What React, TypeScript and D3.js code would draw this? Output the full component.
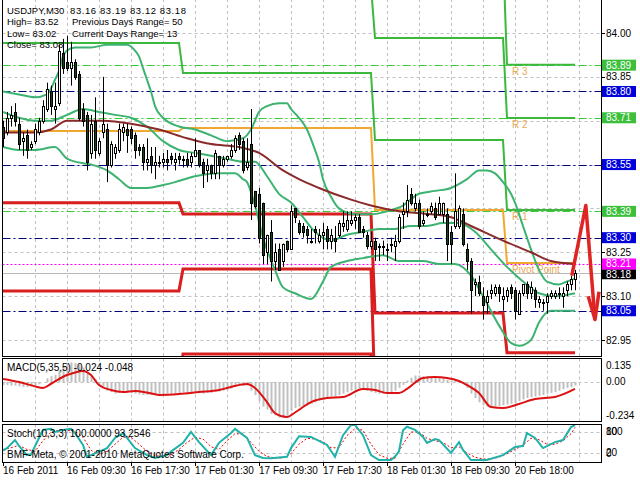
import React from 'react';
import * as d3 from 'd3';

type OHLC = [number, number, number, number];
type Pt = [number, number];

// USDJPY M30 bars: open, high, low, close
const candles: OHLC[] = [
  [83.68, 83.70, 83.61, 83.64], [83.66, 83.73, 83.65, 83.71], [83.71, 83.75, 83.68, 83.72], [83.73, 83.76, 83.68, 83.70],
  [83.69, 83.71, 83.60, 83.62], [83.63, 83.66, 83.58, 83.64], [83.65, 83.67, 83.57, 83.60], [83.61, 83.63, 83.60, 83.62],
  [83.63, 83.69, 83.62, 83.67], [83.66, 83.71, 83.65, 83.70], [83.70, 83.77, 83.69, 83.75], [83.74, 83.83, 83.73, 83.81],
  [83.80, 83.82, 83.72, 83.75], [83.74, 83.83, 83.69, 83.75], [83.76, 83.96, 83.75, 83.94], [83.93, 83.98, 83.86, 83.88],
  [83.90, 83.99, 83.87, 83.88], [83.88, 83.97, 83.82, 83.90], [83.90, 83.91, 83.84, 83.85], [83.86, 83.87, 83.70, 83.71],
  [83.74, 83.76, 83.68, 83.70], [83.72, 83.73, 83.53, 83.56], [83.59, 83.72, 83.57, 83.69], [83.70, 83.78, 83.57, 83.60],
  [83.59, 83.64, 83.58, 83.63], [83.66, 83.85, 83.64, 83.69], [83.67, 83.69, 83.49, 83.55], [83.55, 83.63, 83.54, 83.62],
  [83.59, 83.62, 83.57, 83.61], [83.60, 83.69, 83.59, 83.67], [83.66, 83.69, 83.63, 83.68], [83.67, 83.69, 83.59, 83.65],
  [83.67, 83.68, 83.62, 83.64], [83.65, 83.66, 83.57, 83.60], [83.61, 83.62, 83.58, 83.60], [83.61, 83.62, 83.53, 83.56],
  [83.56, 83.64, 83.53, 83.57], [83.58, 83.61, 83.52, 83.55], [83.55, 83.61, 83.50, 83.56], [83.56, 83.58, 83.54, 83.56],
  [83.56, 83.59, 83.54, 83.57], [83.57, 83.60, 83.53, 83.56], [83.58, 83.59, 83.55, 83.57], [83.56, 83.59, 83.53, 83.57],
  [83.58, 83.59, 83.55, 83.57], [83.57, 83.58, 83.54, 83.57], [83.57, 83.59, 83.54, 83.55], [83.56, 83.59, 83.54, 83.58],
  [83.58, 83.64, 83.58, 83.60], [83.60, 83.60, 83.54, 83.55], [83.56, 83.57, 83.47, 83.52], [83.53, 83.57, 83.49, 83.55],
  [83.55, 83.55, 83.50, 83.52], [83.52, 83.60, 83.50, 83.59], [83.58, 83.58, 83.50, 83.55], [83.55, 83.58, 83.54, 83.57],
  [83.57, 83.58, 83.56, 83.58], [83.58, 83.62, 83.57, 83.60], [83.60, 83.65, 83.59, 83.64], [83.65, 83.66, 83.60, 83.62],
  [83.63, 83.64, 83.52, 83.53], [83.54, 83.64, 83.53, 83.56], [83.62, 83.74, 83.36, 83.42], [83.46, 83.46, 83.40, 83.41],
  [83.45, 83.47, 83.28, 83.30], [83.42, 83.42, 83.21, 83.24], [83.25, 83.31, 83.21, 83.31], [83.32, 83.36, 83.15, 83.22],
  [83.22, 83.28, 83.19, 83.25], [83.26, 83.28, 83.19, 83.19], [83.22, 83.28, 83.20, 83.28], [83.29, 83.29, 83.25, 83.26],
  [83.26, 83.41, 83.26, 83.39], [83.40, 83.40, 83.35, 83.37], [83.35, 83.36, 83.31, 83.32], [83.34, 83.35, 83.30, 83.32],
  [83.33, 83.34, 83.28, 83.31], [83.29, 83.33, 83.28, 83.29], [83.33, 83.34, 83.28, 83.32], [83.29, 83.33, 83.28, 83.31],
  [83.31, 83.35, 83.26, 83.32], [83.33, 83.34, 83.26, 83.29], [83.29, 83.33, 83.26, 83.31], [83.30, 83.34, 83.25, 83.29],
  [83.31, 83.36, 83.30, 83.35], [83.34, 83.39, 83.32, 83.35], [83.33, 83.39, 83.32, 83.36], [83.35, 83.39, 83.34, 83.36],
  [83.36, 83.38, 83.33, 83.37], [83.37, 83.38, 83.32, 83.32], [83.33, 83.34, 83.30, 83.32], [83.31, 83.32, 83.26, 83.27],
  [83.27, 83.32, 83.26, 83.29], [83.29, 83.30, 83.22, 83.26], [83.27, 83.28, 83.22, 83.27], [83.27, 83.29, 83.24, 83.27],
  [83.26, 83.28, 83.22, 83.26], [83.28, 83.30, 83.25, 83.28], [83.27, 83.31, 83.22, 83.29], [83.29, 83.38, 83.28, 83.37],
  [83.38, 83.42, 83.33, 83.39], [83.39, 83.48, 83.37, 83.43], [83.45, 83.47, 83.41, 83.42], [83.40, 83.45, 83.39, 83.42],
  [83.42, 83.43, 83.33, 83.34], [83.35, 83.39, 83.34, 83.36], [83.38, 83.40, 83.37, 83.38], [83.39, 83.42, 83.38, 83.41],
  [83.40, 83.42, 83.36, 83.37], [83.38, 83.44, 83.38, 83.42], [83.38, 83.42, 83.35, 83.42], [83.38, 83.40, 83.22, 83.28],
  [83.32, 83.34, 83.21, 83.28], [83.34, 83.52, 83.33, 83.39], [83.34, 83.41, 83.33, 83.40], [83.38, 83.40, 83.27, 83.28],
  [83.26, 83.28, 83.19, 83.22], [83.22, 83.23, 83.04, 83.12], [83.14, 83.16, 83.10, 83.15], [83.15, 83.17, 83.10, 83.11],
  [83.10, 83.13, 83.02, 83.07], [83.08, 83.12, 83.04, 83.10], [83.11, 83.14, 83.09, 83.12], [83.11, 83.14, 83.10, 83.13],
  [83.13, 83.14, 83.08, 83.11], [83.09, 83.13, 83.05, 83.10], [83.10, 83.13, 83.08, 83.12], [83.13, 83.14, 83.09, 83.11],
  [83.12, 83.13, 83.02, 83.05], [83.04, 83.12, 83.04, 83.11], [83.11, 83.14, 83.10, 83.14], [83.14, 83.15, 83.09, 83.11],
  [83.11, 83.15, 83.09, 83.13], [83.12, 83.13, 83.06, 83.09], [83.08, 83.10, 83.06, 83.09], [83.08, 83.09, 83.05, 83.08],
  [83.08, 83.11, 83.04, 83.10], [83.10, 83.12, 83.09, 83.11], [83.10, 83.12, 83.09, 83.11], [83.11, 83.13, 83.09, 83.11],
  [83.10, 83.13, 83.06, 83.11], [83.12, 83.15, 83.10, 83.14], [83.14, 83.17, 83.12, 83.16], [83.16, 83.19, 83.12, 83.18],
];

const timeLabels = ['16 Feb 2011', '16 Feb 09:30', '16 Feb 17:30', '17 Feb 01:30', '17 Feb 09:30',
  '17 Feb 17:30', '18 Feb 01:30', '18 Feb 09:30', '20 Feb 18:00'];
const timeLabelBars = [0, 16, 32, 48, 64, 80, 96, 112, 128];

const priceGrid = [84.0, 83.85, 83.7, 83.55, 83.4, 83.25, 83.1, 82.95];
const priceLabels = [84.0, 83.85, 83.25, 83.1, 82.95];

const levelPrices = [83.89, 83.80, 83.71, 83.55, 83.39, 83.30, 83.21, 83.05];
const levelKinds = ['green', 'blue', 'green', 'blue', 'green', 'blue', 'magenta', 'blue'];
const bidPrice = 83.18;

const headerLines = [
  ['USDJPY,M30', '83.16 83.19 83.12 83.18'],
  ['High= 83.52', 'Previous Days Range= 50'],
  ['Low= 83.02', 'Current Days Range= 13'],
  ['Close= 83.08', ''],
];

// Bollinger bands and moving average, read at sample bars: [bar, price]
const bbUpper: Pt[] = [[0, 83.80], [4, 83.79], [8, 83.78], [11, 83.79], [12, 83.81], [13, 83.84], [14, 83.87], [15, 83.92],
  [16, 83.94], [18, 83.95], [22, 83.95], [26, 83.96], [31, 83.96], [33, 83.94], [34, 83.92], [35, 83.88], [36, 83.84],
  [37, 83.80], [38, 83.75], [40, 83.71], [44, 83.68], [48, 83.67], [52, 83.65], [56, 83.63], [60, 83.64], [62, 83.67],
  [64, 83.73], [66, 83.75], [69, 83.76], [71, 83.76], [72, 83.74], [74, 83.71], [76, 83.67], [78, 83.60], [79, 83.56],
  [80, 83.50], [82, 83.44], [84, 83.40], [88, 83.38], [92, 83.38], [96, 83.39], [100, 83.41], [104, 83.45], [108, 83.46],
  [112, 83.47], [116, 83.50], [119, 83.53], [121, 83.53], [123, 83.52], [125, 83.49], [127, 83.45], [128, 83.42],
  [130, 83.34], [132, 83.26], [134, 83.19], [136, 83.15], [139, 83.14], [141, 83.15], [143, 83.16]];
const bbMiddle: Pt[] = [[0, 83.73], [4, 83.71], [8, 83.70], [12, 83.70], [16, 83.72], [20, 83.74], [24, 83.73], [28, 83.72],
  [32, 83.71], [36, 83.68], [40, 83.63], [44, 83.60], [48, 83.59], [52, 83.58], [56, 83.57], [60, 83.56], [63, 83.56],
  [66, 83.51], [69, 83.45], [72, 83.42], [75, 83.37], [78, 83.32], [82, 83.29], [86, 83.31], [90, 83.32], [94, 83.33],
  [98, 83.33], [102, 83.34], [106, 83.34], [110, 83.35], [114, 83.35], [118, 83.32], [122, 83.26], [126, 83.20],
  [130, 83.15], [134, 83.11], [138, 83.10], [143, 83.11]];
const bbLower: Pt[] = [[0, 83.61], [4, 83.60], [8, 83.60], [13, 83.61], [16, 83.57], [18, 83.56], [22, 83.55], [26, 83.53],
  [29, 83.50], [32, 83.47], [36, 83.47], [40, 83.48], [43, 83.49], [48, 83.51], [54, 83.52], [58, 83.52], [60, 83.50],
  [61, 83.49], [63, 83.41], [65, 83.30], [68, 83.19], [70, 83.13], [73, 83.11], [77, 83.09], [80, 83.15], [82, 83.20],
  [86, 83.22], [90, 83.23], [95, 83.24], [99, 83.22], [105, 83.22], [109, 83.21], [113, 83.21], [117, 83.17], [120, 83.10],
  [124, 83.00], [127, 82.94], [129, 82.93], [132, 82.95], [134, 83.01], [137, 83.05], [143, 83.05]];
const maLine: Pt[] = [[0, 83.66], [8, 83.66], [12, 83.67], [16, 83.70], [20, 83.70], [25, 83.70], [32, 83.69], [39, 83.67],
  [46, 83.64], [52, 83.62], [59, 83.61], [64, 83.59], [70, 83.53], [74, 83.50], [79, 83.47], [87, 83.43], [92, 83.41],
  [99, 83.39], [107, 83.38], [112, 83.37], [117, 83.34], [125, 83.29], [132, 83.25], [137, 83.22], [143, 83.21]];

// daily pivot levels
const dayStarts = [0, 45, 93, 126];
const dayEnds = [44, 92, 125, 143];
const pivotLevel = [83.665, 83.675, 83.395, 83.213];
const r1Level = [83.966, 83.863, 83.634, 83.395];
const r2Level = [84.27, 84.16, 83.983, 83.709];
const r3Level = [84.6, 84.45, 84.28, 83.891];
const s1Level = [83.419, 83.381, 83.042, 82.906];
const s2Level = [83.118, 83.193, 82.75, 82.55];
const s3Level = [82.8, 82.902, 82.45, 82.2];
const pivotTags = ['R 3', 'R 2', 'R 1', 'Pivot Point'];

// MACD(5,35,5)
const macdHist = [
  -0.02, -0.02, -0.025, -0.025, -0.03, -0.035, -0.035, -0.03, -0.025, -0.015, 0.0, 0.025, 0.04, 0.05, 0.08, 0.11,
  0.13, 0.135, 0.13, 0.12, 0.10, 0.06, 0.04, 0.02, -0.01, -0.03, -0.06, -0.07, -0.08, -0.075, -0.07, -0.07,
  -0.075, -0.08, -0.085, -0.09, -0.09, -0.09, -0.085, -0.085, -0.085, -0.08, -0.08, -0.08, -0.075, -0.07, -0.075, -0.07,
  -0.065, -0.07, -0.08, -0.075, -0.075, -0.065, -0.065, -0.06, -0.055, -0.045, -0.03, -0.02, -0.025, -0.025, -0.06, -0.09,
  -0.13, -0.17, -0.19, -0.22, -0.23, -0.245, -0.24, -0.23, -0.2, -0.18, -0.17, -0.165, -0.16, -0.15, -0.14, -0.13,
  -0.12, -0.11, -0.1, -0.1, -0.09, -0.08, -0.07, -0.06, -0.05, -0.045, -0.05, -0.06, -0.07, -0.075, -0.08, -0.08,
  -0.075, -0.07, -0.06, -0.04, -0.02, 0.01, 0.03, 0.045, 0.045, 0.04, 0.04, 0.035, 0.03, 0.03, 0.03, 0.015,
  0.01, 0.015, 0.01, -0.01, -0.04, -0.08, -0.11, -0.14, -0.16, -0.17, -0.175, -0.17, -0.165, -0.16, -0.155, -0.15,
  -0.145, -0.13, -0.12, -0.11, -0.105, -0.1, -0.095, -0.09, -0.08, -0.075, -0.07, -0.06, -0.05, -0.04, -0.035, -0.024,
];
const macdSignal: Pt[] = [[0, 0.021], [4, 0.0], [8, -0.03], [10, -0.041], [12, -0.012], [16, 0.048], [18, 0.066],
  [20, 0.076], [22, 0.048], [24, -0.021], [27, -0.055], [30, -0.069], [33, -0.062], [36, -0.072], [39, -0.089],
  [44, -0.083], [49, -0.069], [54, -0.055], [57, -0.034], [61, -0.014], [63, -0.041], [66, -0.138], [68, -0.215],
  [71, -0.241], [73, -0.21], [77, -0.138], [81, -0.11], [85, -0.103], [90, -0.048], [93, -0.055], [96, -0.076],
  [99, -0.076], [101, -0.048], [105, 0.028], [108, 0.034], [111, 0.028], [114, 0.007], [116, -0.021], [119, -0.076],
  [122, -0.172], [125, -0.179], [129, -0.151], [133, -0.117], [138, -0.103], [143, -0.048]];
const macdTicks = [0.135, 0.0, -0.234];

// Stochastic(10,3,3)
const stochMain: Pt[] = [[0, 27], [1, 34], [3, 57], [4, 40], [6, 14], [7, 16], [9, 63], [10, 86], [12, 89], [13, 80],
  [15, 86], [17, 89], [18, 77], [20, 43], [21, 9], [22, 14], [24, 24], [26, 34], [28, 63], [30, 77], [31, 63], [33, 34],
  [36, 14], [38, 6], [41, 14], [42, 24], [45, 49], [47, 80], [49, 51], [52, 14], [54, 49], [57, 77], [58, 89], [61, 63],
  [63, 14], [65, 6], [67, 5], [71, 9], [72, 34], [74, 68], [77, 66], [80, 49], [81, 43], [83, 9], [85, 71], [87, 100],
  [88, 100], [90, 71], [92, 14], [94, 0], [97, 0], [98, 10], [99, 25], [100, 85], [101, 95], [103, 86], [105, 66],
  [106, 49], [108, 60], [109, 57], [112, 20], [114, 51], [115, 29], [117, 0], [121, 0], [125, 14], [128, 37], [130, 40],
  [131, 77], [133, 63], [135, 34], [138, 51], [140, 57], [142, 94], [143, 100]];
const stochSignal: Pt[] = [[0, 30], [2, 35], [4, 42], [6, 30], [8, 25], [10, 55], [12, 80], [14, 85], [16, 85], [18, 82],
  [20, 65], [22, 28], [24, 15], [26, 25], [28, 45], [30, 65], [32, 65], [34, 45], [36, 25], [38, 12], [40, 10], [42, 15],
  [44, 30], [46, 50], [48, 65], [50, 60], [52, 38], [54, 30], [56, 55], [58, 75], [60, 75], [62, 50], [64, 25], [66, 10],
  [68, 6], [70, 6], [72, 18], [74, 45], [76, 62], [78, 60], [80, 52], [82, 35], [84, 35], [86, 70], [88, 90], [90, 85],
  [92, 45], [94, 15], [96, 5], [98, 5], [100, 45], [102, 80], [104, 80], [106, 62], [108, 55], [110, 50], [112, 35],
  [114, 38], [116, 20], [118, 8], [120, 3], [122, 3], [124, 8], [126, 18], [128, 30], [130, 42], [132, 62], [134, 58],
  [136, 45], [138, 45], [140, 55], [142, 75], [143, 93.25]];
const stochLevels = [80, 20];
const stochTicks = [100, 80, 20, 0];

// hand drawn forecast arrow: [bar, price]
const arrowLine: Pt[] = [[142.2, 83.17], [145.7, 83.41], [148, 83.02]];
const arrowHead: Pt[] = [[146.3, 83.10], [148, 83.02], [149, 83.115]];

const FONT = 'Liberation Sans, Arial, sans-serif';
const GRID = '#c0c0c0';
const lineColor: Record<string, string> = { green: '#32cd32', blue: '#000080', magenta: '#ff00ff' };
const boxColor: Record<string, string> = { green: '#3cc03c', blue: '#0000dc', magenta: '#ff00ff' };

export default function App() {
  const x = d3.scaleLinear().domain([0, 143]).range([3, 575]);
  const y = d3.scaleLinear().domain([82.95, 84.0]).range([340, 33]);
  const ym = d3.scaleLinear().domain([-0.234, 0]).range([416, 382]);
  const ys = d3.scaleLinear().domain([0, 100]).range([460, 425]);

  const L = 2.5, R = 601.5;
  const mainP = { top: -1, bottom: 356.5 };
  const macdP = { top: 358.5, bottom: 421.5 };
  const stochP = { top: 424.5, bottom: 462.5 };

  const smooth = d3.line<Pt>().x(d => x(d[0])).y(d => y(d[1])).curve(d3.curveMonotoneX);
  const macdLine = d3.line<Pt>().x(d => x(d[0])).y(d => ym(d[1])).curve(d3.curveMonotoneX);
  const stochLine = d3.line<Pt>().x(d => x(d[0])).y(d => ys(d[1]));
  const straight = d3.line<Pt>().x(d => x(d[0])).y(d => y(d[1]));

  const stepPath = (vals: number[]) => {
    const pts: Pt[] = [];
    vals.forEach((v, d) => { pts.push([dayStarts[d], v], [dayEnds[d], v]); });
    return straight(pts) || '';
  };

  const gridXs = d3.range(1, 19).map(k => Math.round(x(8 * k)) + 0.5);
  const panels = [mainP, macdP, stochP];

  return (
    <svg width={640} height={480} style={{ position: 'absolute', left: 0, top: 0, background: '#fff' }}
      fontFamily={FONT} fontSize={10}>
      <defs>
        <clipPath id="clipMain"><rect x={3} y={0} width={598} height={356} /></clipPath>
        <clipPath id="clipMacd"><rect x={3} y={359} width={598} height={62} /></clipPath>
        <clipPath id="clipStoch"><rect x={3} y={425} width={598} height={37} /></clipPath>
      </defs>
      <rect x={0} y={0} width={640} height={480} fill="#fff" />

      {/* grid */}
      {panels.map((p, pi) => gridXs.map(gx => (
        <line key={`g${pi}-${gx}`} x1={gx} x2={gx} y1={p.top} y2={p.bottom} stroke={GRID} strokeDasharray="3,3" />
      )))}
      {priceGrid.map(v => (
        <line key={`pg${v}`} x1={L} x2={R} y1={Math.round(y(v)) + 0.5} y2={Math.round(y(v)) + 0.5}
          stroke={GRID} strokeDasharray="3,3" />
      ))}
      <line x1={L} x2={R} y1={Math.round(ym(0)) + 0.5} y2={Math.round(ym(0)) + 0.5} stroke={GRID} strokeDasharray="3,3" />
      {stochLevels.map(v => (
        <line key={`sl${v}`} x1={L} x2={R} y1={Math.round(ys(v)) + 0.5} y2={Math.round(ys(v)) + 0.5}
          stroke={GRID} strokeDasharray="3,3" />
      ))}

      <g clipPath="url(#clipMain)">
        {/* horizontal level lines */}
        <line x1={L} x2={R} y1={Math.round(y(bidPrice)) + 0.5} y2={Math.round(y(bidPrice)) + 0.5} stroke="#b8b8b8" />
        {levelPrices.map((v, i) => (
          <line key={`lv${v}`} x1={L} x2={R} y1={Math.round(y(v)) + 0.5} y2={Math.round(y(v)) + 0.5}
            stroke={lineColor[levelKinds[i]]}
            strokeDasharray={levelKinds[i] === 'magenta' ? '2,2' : '8,3,2,3'} />
        ))}

        {/* daily pivot step lines */}
        {[r3Level, r2Level, r1Level].map((lv, i) => (
          <path key={`r${i}`} d={stepPath(lv)} fill="none" stroke="#3cb83c" strokeWidth={2} />
        ))}
        {[s1Level, s2Level, s3Level].map((lv, i) => (
          <path key={`s${i}`} d={stepPath(lv)} fill="none" stroke="#d81e1e" strokeWidth={3} />
        ))}
        <path d={stepPath(pivotLevel)} fill="none" stroke="#f0a830" strokeWidth={2} />
        {[r3Level, r2Level, r1Level, pivotLevel].map((lv, i) => (
          <text key={`pt${i}`} x={x(dayStarts[3]) + 5} y={y(lv[3]) + 10} fill="#e8aa55" fontSize={10}>{pivotTags[i]}</text>
        ))}

        {/* indicators */}
        {[bbUpper, bbMiddle, bbLower].map((b, i) => (
          <path key={`bb${i}`} d={smooth(b) || ''} fill="none" stroke="#3cb371" strokeWidth={2} />
        ))}
        <path d={smooth(maLine) || ''} fill="none" stroke="#8b2a2a" strokeWidth={2} />

        {/* candles */}
        {candles.map((c, i) => {
          const [o, h, l, cl] = c;
          const cx = Math.round(x(i));
          const yo = Math.round(y(o)), yc = Math.round(y(cl));
          const top = Math.min(yo, yc), bh = Math.max(1, Math.abs(yo - yc));
          return (
            <g key={`c${i}`}>
              <line x1={cx + 0.5} x2={cx + 0.5} y1={y(h)} y2={y(l)} stroke="#000" />
              <rect x={cx - 0.5} y={top + 0.5} width={2} height={bh} fill={cl >= o ? '#fff' : '#1a401a'} stroke="#000" />
            </g>
          );
        })}
      </g>

      {/* forecast arrow */}
      <path d={straight(arrowLine) || ''} fill="none" stroke="#e02424" strokeWidth={3.5} strokeLinejoin="round" />
      <path d={straight(arrowHead) || ''} fill="none" stroke="#e02424" strokeWidth={3.5} strokeLinejoin="round" />

      {/* MACD panel */}
      <g clipPath="url(#clipMacd)">
        {macdHist.map((v, i) => {
          const cx = Math.round(x(i));
          const y0 = ym(0), y1 = ym(v);
          return <rect key={`h${i}`} x={cx - 0.5} y={Math.min(y0, y1)} width={2} height={Math.abs(y1 - y0)} fill="#c0c0c0" />;
        })}
        <path d={macdLine(macdSignal) || ''} fill="none" stroke="#dd1111" strokeWidth={2} />
      </g>

      {/* Stochastic panel */}
      <g clipPath="url(#clipStoch)">
        <path d={stochLine(stochSignal) || ''} fill="none" stroke="#ee0000" strokeWidth={1} strokeDasharray="2,2" />
        <path d={stochLine(stochMain) || ''} fill="none" stroke="#20b2aa" strokeWidth={2} />
      </g>

      {/* frames */}
      {panels.map((p, pi) => (
        <rect key={`f${pi}`} x={L} y={p.top} width={R - L} height={p.bottom - p.top} fill="none" stroke="#000" />
      ))}

      {/* header texts */}
      <g fontSize={9.5}>
        {headerLines.map((ln, i) => (
          <g key={`hl${i}`}>
            <text x={7} y={14 + i * 11.3}>{ln[0]}</text>
            {ln[1] && (i === 0
              ? <text x={70} y={14} textLength={116} lengthAdjust="spacing">{ln[1]}</text>
              : <text x={72} y={14 + i * 11.3}>{ln[1]}</text>)}
          </g>
        ))}
      </g>
      <text x={7} y={371}>MACD(5,35,5) -0.024 -0.048</text>
      <text x={7} y={437}>Stoch(10,3,3) 100.0000 93.2546</text>
      <text x={7} y={458}>BMF-Meta, © 2001-2010 MetaQuotes Software Corp.</text>

      {/* price axis */}
      {priceLabels.map(v => (
        <g key={`pl${v}`}>
          <line x1={601} x2={605} y1={Math.round(y(v)) + 0.5} y2={Math.round(y(v)) + 0.5} stroke="#000" />
          <text x={606} y={y(v) + 3.5}>{v.toFixed(2)}</text>
        </g>
      ))}
      <rect x={602} y={y(bidPrice) - 3.5} width={34} height={10} fill="#000" />
      <text x={606} y={y(bidPrice) + 5} fill="#fff">{bidPrice.toFixed(2)}</text>
      {levelPrices.map((v, i) => (
        <g key={`lb${v}`}>
          <rect x={602} y={y(v) - 5.5} width={34} height={11} fill={boxColor[levelKinds[i]]} />
          <text x={606} y={y(v) + 3.5} fill="#fff">{v.toFixed(2)}</text>
        </g>
      ))}

      {/* MACD axis */}
      {macdTicks.map(v => (
        <text key={`mt${v}`} x={606} y={Math.max(ym(v) + 3, macdP.top + 10)}>{v === 0 ? '0.00' : String(v)}</text>
      ))}
      {/* Stoch axis: MT4 stacks 100/80 and 20/0 on top of each other */}
      {stochTicks.map(v => (
        <text key={`st${v}`} x={606} y={Math.min(Math.max(ys(v) + 3, stochP.top + 10.5), stochP.bottom - 5.5)}>{v}</text>
      ))}

      {/* time axis */}
      {timeLabelBars.map((b, i) => (
        <g key={`t${i}`}>
          <line x1={Math.round(x(b)) + 0.5} x2={Math.round(x(b)) + 0.5} y1={462} y2={466} stroke="#000" />
          <text x={x(b)} y={474}>{timeLabels[i]}</text>
        </g>
      ))}
    </svg>
  );
}
